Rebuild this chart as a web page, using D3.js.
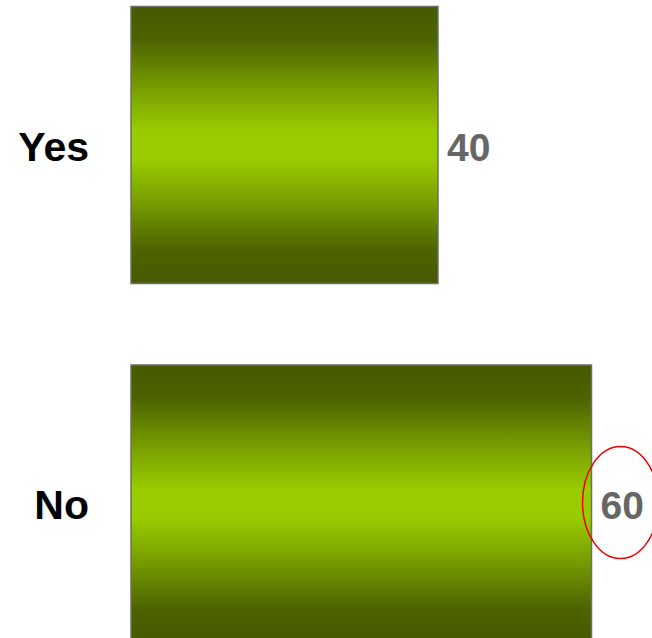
<!DOCTYPE html>
<html>
<head>
<meta charset="utf-8">
<script src="https://cdn.jsdelivr.net/npm/d3@7/dist/d3.min.js"></script>
<style>
html,body{margin:0;padding:0;background:#fff;overflow:hidden;}
svg{display:block;}
</style>
</head>
<body>
<script>
const categories = ["Yes", "No"];
const values = [40, 60];
const highlighted = ["No"];

const W = 652, H = 638;
const svg = d3.select("body").append("svg").attr("width", W).attr("height", H);

const defs = svg.append("defs");
const grad = defs.append("linearGradient").attr("id", "barGrad")
  .attr("x1", 0).attr("y1", 0).attr("x2", 0).attr("y2", 1);
[[0, "#465900"], [0.12, "#4d6300"], [0.3, "#78a000"], [0.45, "#99cc00"],
 [0.55, "#99cc00"], [0.7, "#78a000"], [0.88, "#4d6300"], [1, "#465900"]]
  .forEach(([o, c]) => grad.append("stop").attr("offset", o).attr("stop-color", c));

const x = d3.scaleLinear().domain([0, 60]).range([131, 591.5]);
const y = d3.scaleBand().domain(categories).range([6.5, 642]).paddingInner(0.2273).paddingOuter(0);

const data = categories.map((c, i) => ({c, v: values[i]}));

svg.selectAll("rect.bar").data(data).enter().append("rect")
  .attr("class", "bar")
  .attr("x", x(0))
  .attr("y", d => y(d.c))
  .attr("width", d => x(d.v) - x(0))
  .attr("height", y.bandwidth())
  .attr("fill", "url(#barGrad)")
  .attr("stroke", "#6e6e6e")
  .attr("stroke-width", 1.5);

svg.selectAll("text.cat").data(data).enter().append("text")
  .attr("class", "cat")
  .attr("x", 89)
  .attr("y", d => y(d.c) + y.bandwidth() / 2 + 16)
  .attr("text-anchor", "end")
  .style("font-family", "Liberation Sans, Arial, sans-serif")
  .style("font-weight", "bold")
  .style("font-size", "41px")
  .attr("fill", "#000")
  .text(d => d.c);

svg.selectAll("text.val").data(data).enter().append("text")
  .attr("class", "val")
  .attr("x", d => x(d.v) + 9)
  .attr("y", d => y(d.c) + y.bandwidth() / 2 + 16)
  .style("font-family", "Liberation Sans, Arial, sans-serif")
  .style("font-weight", "bold")
  .style("font-size", "39px")
  .attr("fill", "#666666")
  .text(d => d.v);

svg.selectAll("ellipse.hl").data(data.filter(d => highlighted.includes(d.c))).enter().append("ellipse")
  .attr("class", "hl")
  .attr("cx", d => x(d.v) + 29)
  .attr("cy", d => y(d.c) + y.bandwidth() / 2 - 1)
  .attr("rx", 38)
  .attr("ry", 56)
  .attr("fill", "none")
  .attr("stroke", "#ee0000")
  .attr("stroke-width", 1.5);
</script>
</body>
</html>
